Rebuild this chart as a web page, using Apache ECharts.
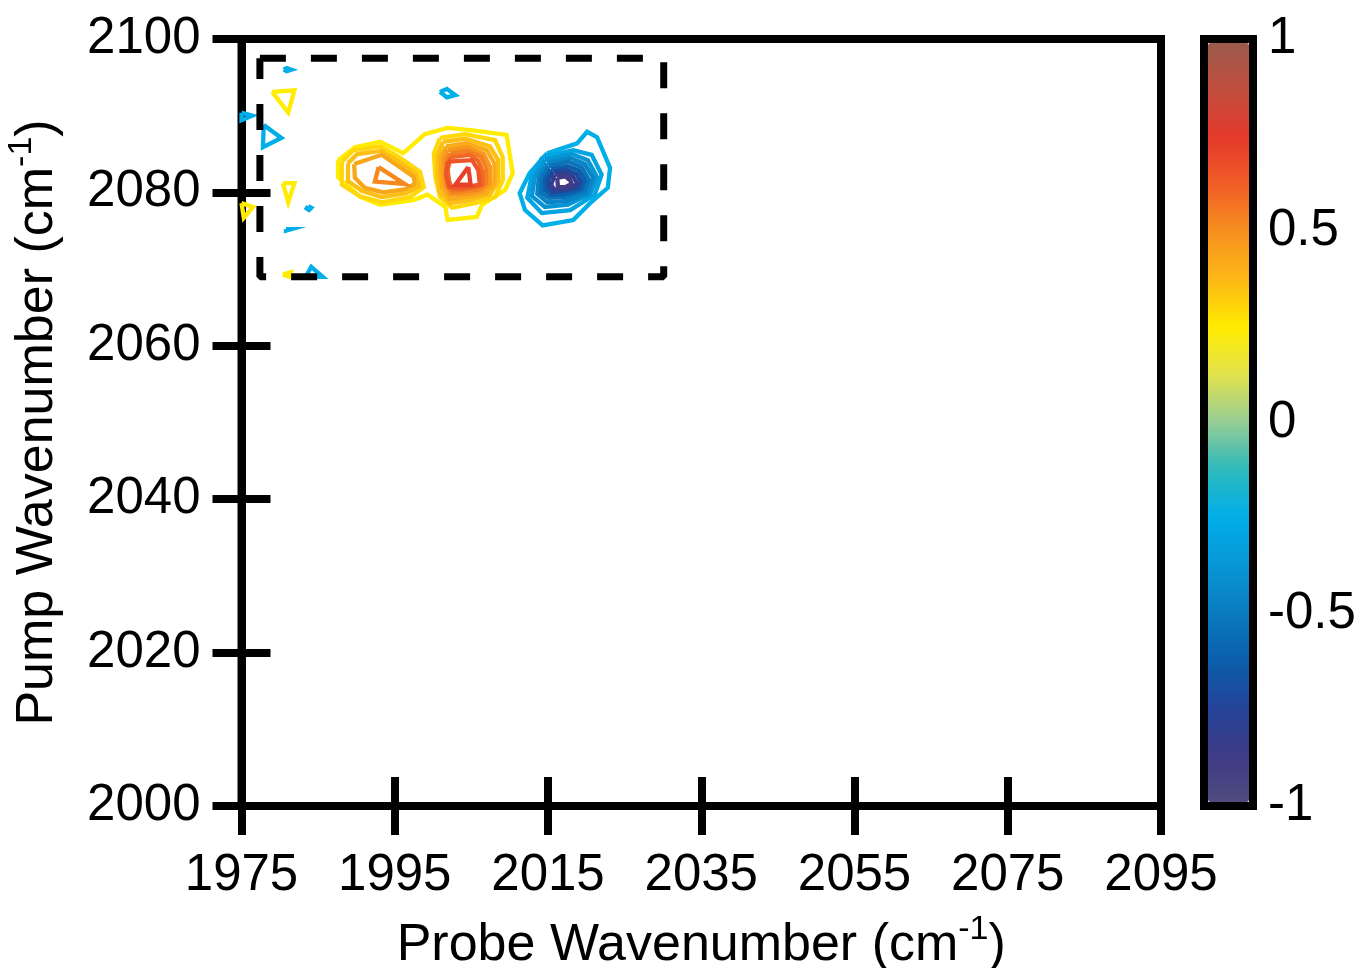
<!DOCTYPE html>
<html>
<head>
<meta charset="utf-8">
<script src="https://cdn.jsdelivr.net/npm/echarts@6/dist/echarts.min.js"></script>
<style>
  html, body { margin: 0; padding: 0; background: #fff; }
  #chart { width: 1360px; height: 968px; }
</style>
</head>
<body>
<div id="chart"></div>
<script>
// Axis ticks (cm^-1) and colour-scale ticks
const probeTicks = [1975, 1995, 2015, 2035, 2055, 2075, 2095];
const pumpTicks = [2000, 2020, 2040, 2060, 2080, 2100];
const scaleTicks = [-1, -0.5, 0, 0.5, 1];

// Colour scale, evenly spaced from -1 to 1
const scaleColors = [
  '#504b7e', '#3e3a86', '#24449a', '#0b5fab', '#0a7cc0', '#0896d6',
  '#00aee8', '#2db9bd', '#95cd96', '#e2e24e', '#ffec00', '#fcb916',
  '#f6911e', '#f15e27', '#e4392a', '#c24d3d', '#9b5a4b'
];

// Region of interest (probe, pump corners)
const boxCorners = [[1977.4, 2097.5], [2030.1, 2097.5], [2030.1, 2069.0], [1977.4, 2069.0]];

// Positive peaks: joint outer contour around both bleach peaks
const posOuter = [[1987.6,2084.2],[1989.8,2085.9],[1993.1,2086.6],[1996.1,2085.1],[1998.9,2087.6],[2001.9,2088.4],[2005.2,2088.1],[2009.6,2087.5],[2010.4,2082.5],[2009.4,2080.3],[2006.4,2078.4],[2005.7,2076.8],[2001.9,2076.4],[2001.6,2078.1],[1999.3,2079.7],[1997.4,2079.0],[1993.1,2078.4],[1990.5,2079.4],[1987.6,2082.0]];

// Lower-frequency positive peak (~1994, 2082)
const peakA1 = [[1988.1,2084.0],[1989.6,2085.5],[1993.1,2086.0],[1995.7,2084.5],[1998.3,2082.7],[1998.8,2080.7],[1997.0,2079.4],[1993.3,2078.7],[1990.5,2079.5],[1988.1,2081.0]];
const peakA2 = [[1988.9,2083.8],[1990.1,2085.0],[1993.2,2085.4],[1995.4,2084.1],[1997.8,2082.4],[1998.2,2080.8],[1996.5,2079.9],[1993.3,2079.4],[1990.7,2080.2],[1988.9,2081.5]];
const peakA3 = [[1989.7,2083.7],[1993.3,2084.9],[1995.2,2083.6],[1997.5,2082.0],[1997.6,2081.1],[1996.3,2080.4],[1993.5,2080.0],[1991.1,2080.6],[1989.8,2081.9]];
const peakA4 = [[1992.9,2083.3],[1992.4,2081.4],[1996.3,2081.1]];

// Higher-frequency positive peak (~2004, 2082)
const peakB1 = [[2000.9,2087.1],[2004.2,2087.6],[2008.1,2086.8],[2009.1,2084.6],[2009.1,2081.6],[2008.1,2079.4],[2005.5,2078.6],[2002.5,2078.0],[2000.9,2079.4],[2000.3,2082.0],[2000.1,2085.1]];
const peakB2 = [[2001.3,2086.6],[2004.2,2087.0],[2007.4,2086.0],[2008.5,2084.2],[2008.5,2081.4],[2007.4,2079.7],[2004.8,2079.0],[2002.2,2078.6],[2000.9,2080.0],[2000.6,2082.3],[2000.6,2084.9]];
const peakB3 = [[2001.7,2086.0],[2004.3,2086.4],[2007.0,2085.5],[2008.0,2083.8],[2008.0,2081.2],[2006.9,2079.9],[2004.4,2079.4],[2002.2,2079.1],[2001.2,2080.6],[2001.0,2082.7],[2001.0,2084.6]];
const peakB4 = [[2001.9,2085.5],[2004.4,2085.9],[2006.6,2085.0],[2007.4,2083.4],[2007.4,2081.2],[2006.4,2080.2],[2004.2,2079.8],[2002.3,2079.7],[2001.6,2080.8],[2001.4,2082.9],[2001.4,2084.4]];
const peakB5 = [[2002.2,2085.1],[2004.6,2085.4],[2006.3,2084.6],[2006.9,2083.2],[2006.9,2081.2],[2006.0,2080.4],[2004.2,2080.2],[2002.5,2080.0],[2001.8,2081.1],[2001.7,2082.9],[2001.8,2084.1]];
const peakB6 = [[2002.3,2084.6],[2004.8,2084.9],[2005.9,2084.1],[2006.4,2082.8],[2006.5,2081.1],[2005.5,2080.7],[2003.8,2080.4],[2002.5,2080.4],[2002.1,2081.5],[2001.9,2082.9]];
const peakB7 = [[2001.9,2084.0],[2005.1,2084.2],[2005.9,2082.9],[2006.1,2081.0],[2004.2,2080.7],[2002.1,2080.7],[2001.7,2082.3]];
const peakB8 = [[2004.6,2083.3],[2002.9,2081.0],[2004.9,2081.0]];

// Negative peak (~2017, 2082)
const peakC1 = [[2014.9,2085.1],[2018.8,2086.4],[2020.1,2087.9],[2021.4,2087.2],[2023.1,2083.2],[2022.8,2080.6],[2020.5,2078.6],[2018.3,2076.4],[2014.3,2075.7],[2012.0,2077.7],[2011.3,2079.9],[2012.6,2082.5]];
const peakC2 = [[2014.3,2084.6],[2018.3,2085.5],[2020.7,2084.9],[2022.0,2082.3],[2021.1,2079.7],[2017.9,2077.7],[2014.2,2077.3],[2012.3,2079.3],[2012.9,2082.3]];
const peakC3 = [[2014.6,2084.2],[2018.1,2085.0],[2020.2,2084.2],[2021.4,2082.0],[2020.5,2079.8],[2017.6,2078.4],[2014.6,2078.1],[2012.9,2079.5],[2013.3,2082.1]];
const peakC4 = [[2014.9,2083.8],[2017.9,2084.5],[2019.8,2083.7],[2020.9,2081.9],[2020.1,2079.9],[2017.5,2078.9],[2014.9,2078.7],[2013.6,2079.8],[2013.8,2082.0]];
const peakC5 = [[2015.1,2083.4],[2017.7,2084.0],[2019.4,2083.3],[2020.3,2081.7],[2019.7,2080.2],[2017.3,2079.4],[2015.1,2079.3],[2014.1,2080.0],[2014.2,2081.9]];
const peakC6 = [[2015.4,2083.0],[2017.6,2083.4],[2019.0,2082.9],[2019.8,2081.6],[2019.3,2080.4],[2017.2,2079.8],[2015.4,2079.7],[2014.6,2080.3],[2014.6,2081.7]];
const peakC7 = [[2015.7,2082.7],[2017.5,2082.9],[2018.7,2082.4],[2019.3,2081.4],[2018.9,2080.6],[2017.1,2080.2],[2015.5,2080.0],[2015.0,2080.7],[2015.0,2081.6]];
const peakC8 = [[2015.9,2082.3],[2017.3,2082.5],[2018.3,2082.0],[2018.8,2081.2],[2018.4,2080.7],[2017.0,2080.4],[2015.8,2080.4],[2015.4,2081.0]];
const peakC9 = [[2016.2,2081.9],[2017.2,2082.1],[2017.9,2081.6],[2018.1,2081.1],[2017.3,2080.7],[2016.3,2080.7]];

// Small noise contours near the low-frequency edge
const noisePos1 = [[1979.0,2093.1],[1981.9,2093.3],[1981.1,2090.4]];
const noisePos2 = [[1980.4,2081.2],[1981.9,2081.2],[1981.1,2078.7]];
const noisePos3 = [[1975.0,2078.6],[1976.5,2078.1],[1975.3,2076.7]];
const noisePos4 = [[1980.4,2069.3],[1981.4,2069.6],[1981.2,2069.0]];
const noiseNeg1 = [[1980.5,2096.0],[1980.9,2096.2],[1981.5,2096.0],[1980.9,2095.8]];
const noiseNeg2 = [[1975.0,2090.4],[1976.4,2090.0],[1975.0,2089.4]];
const noiseNeg3 = [[1977.9,2088.8],[1980.2,2087.1],[1977.8,2085.9]];
const noiseNeg4 = [[2000.9,2093.1],[2001.8,2093.5],[2002.9,2092.7],[2001.8,2092.4]];
const noiseNeg5 = [[1983.7,2078.2],[1984.1,2078.0],[1983.8,2077.7],[1983.5,2077.9]];
const noiseNeg6 = [[1980.8,2075.2],[1981.5,2075.2],[1981.5,2075.0],[1980.8,2075.0]];
const noiseNeg7 = [[1983.4,2069.0],[1984.1,2070.3],[1985.6,2069.0]];

// Contour level of each path
const contourPaths = [
  posOuter, peakA1, peakA2, peakA3, peakA4,
  peakB1, peakB2, peakB3, peakB4, peakB5, peakB6, peakB7, peakB8,
  peakC1, peakC2, peakC3, peakC4, peakC5, peakC6, peakC7, peakC8, peakC9,
  noisePos1, noisePos2, noisePos3, noisePos4,
  noiseNeg1, noiseNeg2, noiseNeg3, noiseNeg4, noiseNeg5, noiseNeg6, noiseNeg7
];
const contourLevels = [
  0.25, 0.30, 0.36, 0.43, 0.52,
  0.30, 0.36, 0.42, 0.48, 0.54, 0.60, 0.66, 0.72,
  -0.25, -0.30, -0.38, -0.46, -0.54, -0.62, -0.72, -0.82, -0.90,
  0.25, 0.25, 0.25, 0.25,
  -0.25, -0.25, -0.25, -0.25, -0.25, -0.25, -0.25
];

const FONT = "'Liberation Sans', Arial, Helvetica, sans-serif";

function hexToRgb(h) {
  return [parseInt(h.slice(1, 3), 16), parseInt(h.slice(3, 5), 16), parseInt(h.slice(5, 7), 16)];
}
// Look up a level on the colour scale
function colorAt(v) {
  const t = (v + 1) / 2 * (scaleColors.length - 1);
  const i = Math.max(0, Math.min(scaleColors.length - 2, Math.floor(t)));
  const f = t - i;
  const a = hexToRgb(scaleColors[i]), b = hexToRgb(scaleColors[i + 1]);
  const c = a.map((x, k) => Math.round(x + (b[k] - x) * f));
  return 'rgb(' + c.join(',') + ')';
}

const closed = pts => pts.concat([pts[0]]);

const contourSeries = contourPaths.map((pts, i) => ({
  type: 'line',
  xAxisIndex: 0,
  yAxisIndex: 0,
  data: closed(pts),
  showSymbol: false,
  symbol: 'none',
  clip: true,
  silent: true,
  z: 3,
  lineStyle: { color: colorAt(contourLevels[i]), width: 4.3, join: 'miter' }
}));

const boxSeries = {
  type: 'line',
  xAxisIndex: 0,
  yAxisIndex: 0,
  data: closed(boxCorners),
  showSymbol: false,
  symbol: 'none',
  silent: true,
  z: 5,
  lineStyle: { color: '#000', width: 7, type: [26, 25], cap: 'butt' }
};

const plain = v => String(v);
const tickStyle = { color: '#000', width: 8 };
const labelStyle = { color: '#000', fontSize: 51, fontFamily: FONT, formatter: plain };
const nameStyle = {
  color: '#000', fontSize: 52, fontFamily: FONT, lineHeight: 66,
  rich: { sup: { fontSize: 34, fontFamily: FONT, color: '#000', verticalAlign: 'top', lineHeight: 34 } }
};

const probeMin = probeTicks[0], probeMax = probeTicks[probeTicks.length - 1];
const pumpMin = pumpTicks[0], pumpMax = pumpTicks[pumpTicks.length - 1];

const option = {
  animation: false,
  backgroundColor: '#fff',
  grid: [
    { left: 241.5, top: 39, width: 919.5, height: 767, show: true, borderColor: '#000', borderWidth: 8, backgroundColor: 'transparent', containLabel: false, outerBoundsMode: 'none' },
    { left: 1204, top: 39, width: 49, height: 767, show: true, borderColor: '#000', borderWidth: 8, backgroundColor: 'transparent', containLabel: false, outerBoundsMode: 'none' }
  ],
  xAxis: [
    {
      gridIndex: 0, type: 'value', position: 'bottom',
      min: probeMin, max: probeMax, interval: probeTicks[1] - probeTicks[0],
      axisLine: { show: true, onZero: false, lineStyle: { color: '#000', width: 8 } },
      axisTick: { show: true, inside: false, length: 29, lineStyle: tickStyle },
      axisLabel: Object.assign({ margin: 44 }, labelStyle),
      splitLine: { show: false },
      name: 'Probe Wavenumber (cm{sup|-1})',
      nameLocation: 'middle', nameGap: 107, nameTextStyle: nameStyle
    },
    {
      gridIndex: 0, type: 'value', position: 'bottom',
      min: probeMin, max: probeMax, interval: probeTicks[1] - probeTicks[0],
      axisLine: { show: false, onZero: false },
      axisTick: { show: true, inside: true, length: 29, lineStyle: tickStyle },
      axisLabel: { show: false },
      splitLine: { show: false }
    },
    { gridIndex: 1, type: 'value', min: 0, max: 1, show: false }
  ],
  yAxis: [
    {
      gridIndex: 0, type: 'value', position: 'left',
      min: pumpMin, max: pumpMax, interval: pumpTicks[1] - pumpTicks[0],
      axisLine: { show: true, onZero: false, lineStyle: { color: '#000', width: 8 } },
      axisTick: { show: true, inside: false, length: 29, lineStyle: tickStyle },
      axisLabel: Object.assign({ margin: 41 }, labelStyle),
      splitLine: { show: false },
      name: 'Pump Wavenumber (cm{sup|-1})',
      nameLocation: 'middle', nameGap: 171, nameRotate: 90, nameTextStyle: nameStyle
    },
    {
      gridIndex: 0, type: 'value', position: 'left',
      min: pumpMin, max: pumpMax, interval: pumpTicks[1] - pumpTicks[0],
      axisLine: { show: false, onZero: false },
      axisTick: { show: true, inside: true, length: 29, lineStyle: tickStyle },
      axisLabel: { show: false },
      splitLine: { show: false }
    },
    {
      gridIndex: 1, type: 'value', position: 'right',
      min: scaleTicks[0], max: scaleTicks[scaleTicks.length - 1], interval: scaleTicks[1] - scaleTicks[0],
      axisLine: { show: false },
      axisTick: { show: false },
      axisLabel: Object.assign({ margin: 15 }, labelStyle),
      splitLine: { show: false }
    }
  ],
  visualMap: {
    type: 'continuous',
    seriesIndex: [],
    min: scaleTicks[0],
    max: scaleTicks[scaleTicks.length - 1],
    orient: 'vertical',
    left: 1208,
    top: 43,
    padding: 0,
    itemWidth: 41,
    itemHeight: 759,
    calculable: false,
    hoverLink: false,
    realtime: false,
    inRange: { color: scaleColors },
    textStyle: { color: 'transparent' }
  },
  series: contourSeries.concat([boxSeries])
};

const chart = echarts.init(document.getElementById('chart'), null, { renderer: 'canvas' });
chart.setOption(option);
</script>
</body>
</html>
